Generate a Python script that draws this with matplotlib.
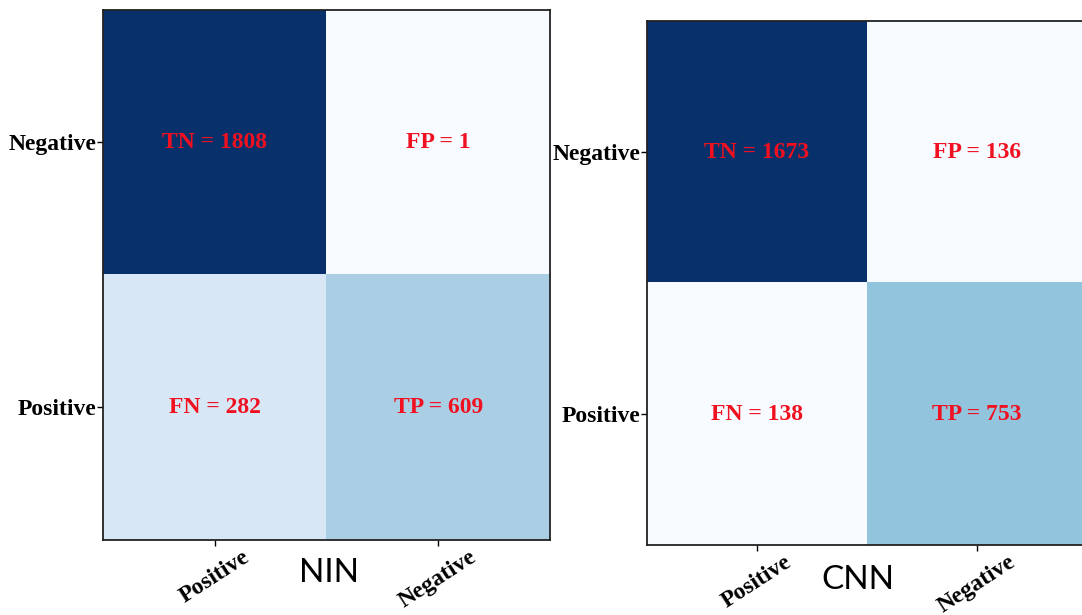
import numpy as np
import matplotlib
matplotlib.use('Agg')
import matplotlib.pyplot as plt

# Confusion matrix data (rows: Negative, Positive)
rowLabels = ['Negative', 'Positive']
colLabels = ['Positive', 'Negative']
ninValues = [[1808, 1], [282, 609]]
ninNames = [['TN', 'FP'], ['FN', 'TP']]
cnnValues = [[1673, 136], [138, 753]]
cnnNames = [['TN', 'FP'], ['FN', 'TP']]

fig = plt.figure(figsize=(10.82, 6.15), dpi=100)
axL = fig.add_axes([0.0952, 0.1220, 0.4131, 0.8618])
axR = fig.add_axes([0.5980, 0.1138, 0.4067, 0.8520])

serif = 'Liberation Serif'


def drawMatrix(ax, values, names, title, tx, ty):
    data = np.array(values)
    ax.imshow(data, cmap='Blues', aspect='auto', interpolation='nearest')
    for i in range(data.shape[0]):
        for j in range(data.shape[1]):
            ax.text(j, i, '{n} = {v}'.format(n=names[i][j], v=values[i][j]),
                    ha='center', va='center', color='#f01020',
                    fontsize=17, fontweight='bold', family=serif)
    ax.set_xticks(range(len(colLabels)))
    ax.set_xticklabels(colLabels, rotation=33, ha='center',
                       fontsize=17, fontweight='bold', family=serif)
    ax.set_yticks(range(len(rowLabels)))
    ax.set_yticklabels(rowLabels, fontsize=17, fontweight='bold',
                       family=serif)
    ax.tick_params(length=4, width=1, pad=1)
    for sp in ax.spines.values():
        sp.set_linewidth(1.3)
        sp.set_color('#222222')
    ax.text(tx, ty, title, transform=ax.transAxes, ha='center',
            va='center', fontsize=24, family='Lato')


drawMatrix(axL, ninValues, ninNames, 'NIN', 0.506, -0.062)
drawMatrix(axR, cnnValues, cnnNames, 'CNN', 0.48, -0.066)

plt.savefig('out.png', dpi=100)
